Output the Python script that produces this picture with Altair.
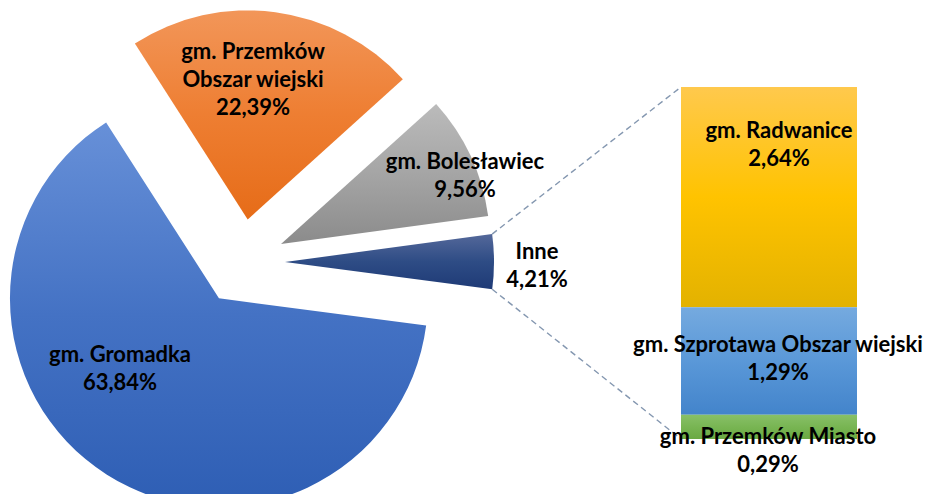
import numpy as np
import pandas as pd
import altair as alt

# ---------------- data ----------------
pie_labels = ["gm. Gromadka", "gm. Przemków\nObszar wiejski", "gm. Bolesławiec", "Inne"]
pie_values = [63.84, 22.39, 9.56, 4.21]
pie_texts = ["63,84%", "22,39%", "9,56%", "4,21%"]

bar_labels = ["gm. Radwanice", "gm. Szprotawa Obszar wiejski", "gm. Przemków Miasto"]
bar_values = [2.64, 1.29, 0.29]
bar_texts = ["2,64%", "1,29%", "0,29%"]

# ---------------- layout / style ----------------
W, H = 918, 486
CX, CY, R, EXPLODE = 234, 254, 209, 43
START_DEG = 97.5
BAR_X0, BAR_X1, BAR_Y0, BAR_Y1 = 673, 849, 79, 431

# centre of the first text line of each label
pie_label_pos = [(112, 347), (245, 44), (457, 154), (529, 244)]
bar_label_pos = [(771, 123), (770, 337), (760, 429)]

pie_grads = [
    ["#6790D8", "#4472C4", "#2E5EB4"],
    ["#F29659", "#EE7E32", "#E66C18"],
    ["#BBBBBB", "#A5A5A5", "#8B8B8B"],
    ["#54689A", "#2E4C85", "#1E3A76"],
]
bar_grads = [
    ["#FFC94D", "#FFC300", "#E3B200"],
    ["#75AADF", "#5A98D8", "#4384CB"],
    ["#88C067", "#78B553", "#6AA943"],
]


def grad(cols):
    return alt.LinearGradient(
        gradient="linear",
        stops=[alt.GradientStop(offset=0, color=cols[0]),
               alt.GradientStop(offset=0.5, color=cols[1]),
               alt.GradientStop(offset=1, color=cols[2])],
        x1=0, x2=0, y1=0, y2=1,
    )


# pie geometry
tot = sum(pie_values)
cum = np.concatenate([[0], np.cumsum(pie_values)])
t0 = np.radians(START_DEG + cum[:-1] / tot * 360)
t1 = np.radians(START_DEG + cum[1:] / tot * 360)
mid = (t0 + t1) / 2
pie_df = pd.DataFrame({
    "label": pie_labels,
    "value": pie_values,
    "t0": t0,
    "t1": t1,
    "cx": CX + EXPLODE * np.sin(mid),
    "cy": CY - EXPLODE * np.cos(mid),
})

# bar geometry
btot = sum(bar_values)
bcum = np.concatenate([[0], np.cumsum(bar_values)])
bar_df = pd.DataFrame({
    "label": bar_labels,
    "value": bar_values,
    "x0": BAR_X0, "x1": BAR_X1,
    "y0": BAR_Y0 + bcum[:-1] / btot * (BAR_Y1 - BAR_Y0),
    "y1": BAR_Y0 + bcum[1:] / btot * (BAR_Y1 - BAR_Y0),
})

# connector lines from "Inne" slice corners to bar corners
last = pie_df.iloc[-1]
line_df = pd.DataFrame({
    "x": [last.cx + R * np.sin(last.t0), last.cx + R * np.sin(last.t1)],
    "y": [last.cy - R * np.cos(last.t0), last.cy - R * np.cos(last.t1)],
    "x2": [BAR_X0, BAR_X0],
    "y2": [BAR_Y0, BAR_Y1],
})

# labels
lab_rows = []
for i, (l, t) in enumerate(zip(pie_labels, pie_texts)):
    lab_rows.append({"x": pie_label_pos[i][0], "y": pie_label_pos[i][1], "text": l + "\n" + t})
for i, (l, t) in enumerate(zip(bar_labels, bar_texts)):
    lab_rows.append({"x": bar_label_pos[i][0], "y": bar_label_pos[i][1], "text": l + "\n" + t})
lab_df = pd.DataFrame(lab_rows)

xs = alt.Scale(domain=[0, W], range=[0, W], nice=False, zero=False)
ys = alt.Scale(domain=[0, H], range=[0, H], nice=False, zero=False)

layers = []
for i in range(len(pie_labels)):
    layers.append(
        alt.Chart(pie_df.iloc[[i]]).mark_arc(radius=R, fill=grad(pie_grads[i]), stroke=None).encode(
            x=alt.X("cx:Q", scale=xs, axis=None),
            y=alt.Y("cy:Q", scale=ys, axis=None),
            theta=alt.Theta("t0:Q", scale=None),
            theta2=alt.Theta2("t1:Q"),
        )
    )

lines = alt.Chart(line_df).mark_rule(strokeDash=[6, 4], color="#8497B0", strokeWidth=1.4).encode(
    x=alt.X("x:Q", scale=xs, axis=None),
    y=alt.Y("y:Q", scale=ys, axis=None),
    x2="x2:Q",
    y2="y2:Q",
)
layers.append(lines)

for i in range(len(bar_labels)):
    layers.append(
        alt.Chart(bar_df.iloc[[i]]).mark_rect(fill=grad(bar_grads[i])).encode(
            x=alt.X("x0:Q", scale=xs, axis=None),
            x2="x1:Q",
            y=alt.Y("y0:Q", scale=ys, axis=None),
            y2="y1:Q",
        )
    )

labels = alt.Chart(lab_df).mark_text(
    font="Lato", fontWeight="bold", fontSize=22, color="#000000",
    lineBreak="\n", lineHeight=28, align="center", baseline="middle",
).encode(
    x=alt.X("x:Q", scale=xs, axis=None),
    y=alt.Y("y:Q", scale=ys, axis=None),
    text="text:N",
)
layers.append(labels)

chart = alt.layer(*layers).properties(
    width=W, height=H,
    autosize=alt.AutoSizeParams(type="none"),
    padding=0,
).configure_view(stroke=None)

chart.save("out.html", embed_options={"renderer": "svg", "actions": False})
